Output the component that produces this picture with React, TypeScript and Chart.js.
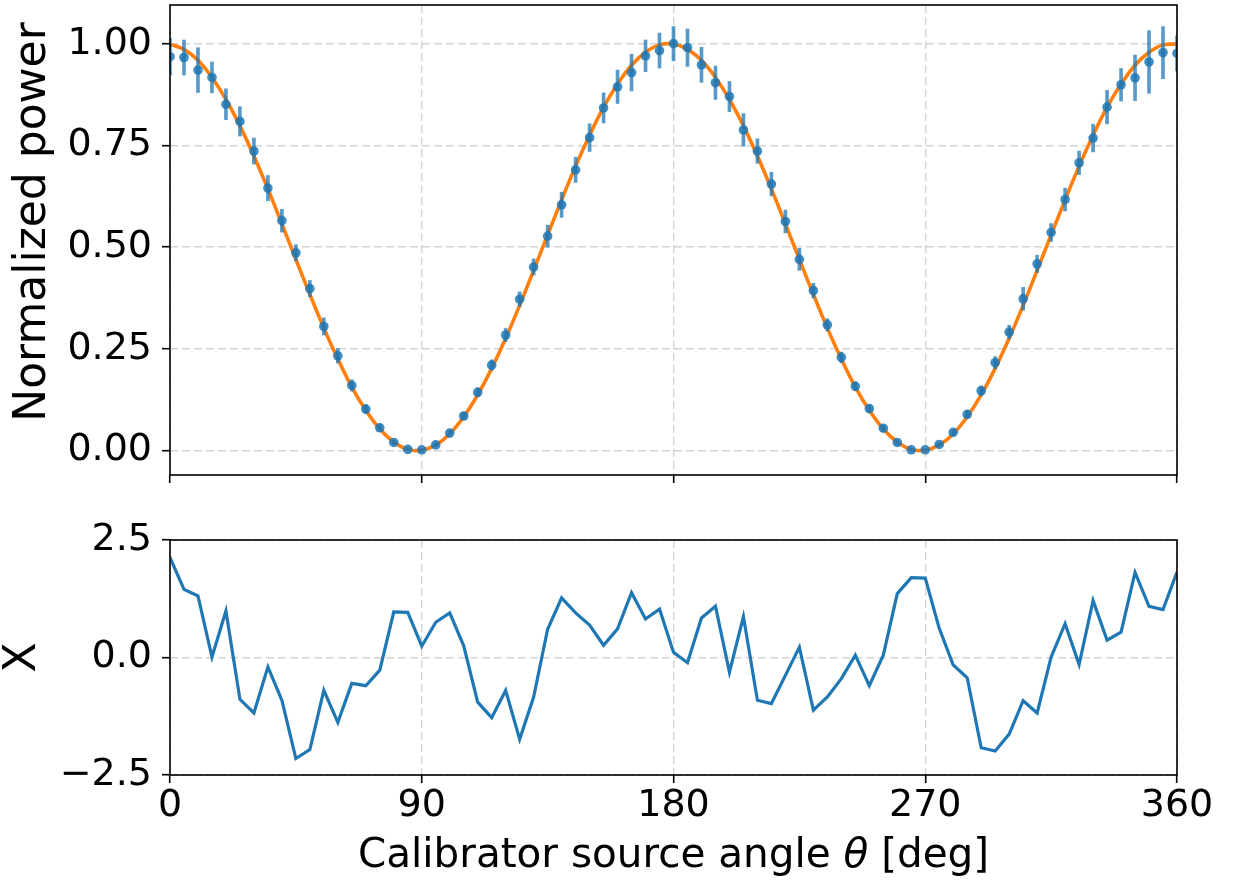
import { useEffect, useRef } from 'react';
import { Chart, registerables } from 'chart.js';

Chart.register(...registerables);

// ---------- data ----------
const ANGLES = [
  0, 5, 10, 15, 20, 25, 30, 35, 40, 45, 50, 55, 60, 65, 70, 75, 80, 85, 90, 95,
  100, 105, 110, 115, 120, 125, 130, 135, 140, 145, 150, 155, 160, 165, 170, 175,
  180, 185, 190, 195, 200, 205, 210, 215, 220, 225, 230, 235, 240, 245, 250, 255,
  260, 265, 270, 275, 280, 285, 290, 295, 300, 305, 310, 315, 320, 325, 330, 335,
  340, 345, 350, 355, 360,
];

const POWER = [
  0.968, 0.966, 0.935, 0.917, 0.851, 0.809, 0.736, 0.645, 0.565, 0.486,
  0.398, 0.305, 0.233, 0.160, 0.102, 0.056, 0.020, 0.003, 0.002, 0.014,
  0.043, 0.085, 0.143, 0.210, 0.284, 0.372, 0.451, 0.527, 0.604, 0.690,
  0.769, 0.842, 0.894, 0.929, 0.970, 0.983, 1.000, 0.990, 0.948, 0.904,
  0.870, 0.788, 0.736, 0.655, 0.563, 0.470, 0.393, 0.309, 0.229, 0.158,
  0.103, 0.055, 0.020, 0.002, 0.002, 0.015, 0.045, 0.089, 0.147, 0.216,
  0.291, 0.373, 0.459, 0.536, 0.617, 0.707, 0.768, 0.844, 0.899, 0.916,
  0.955, 0.978, 0.976,
];

const POWER_ERR = [
  0.045, 0.043, 0.055, 0.038, 0.038, 0.036, 0.032, 0.031, 0.028, 0.020,
  0.020, 0.021, 0.018, 0.014, 0.011, 0.008, 0.005, 0.003, 0.002, 0.004,
  0.006, 0.008, 0.011, 0.013, 0.016, 0.018, 0.020, 0.027, 0.031, 0.031,
  0.034, 0.037, 0.041, 0.045, 0.039, 0.043, 0.042, 0.046, 0.043, 0.041,
  0.037, 0.040, 0.030, 0.029, 0.028, 0.027, 0.018, 0.015, 0.013, 0.011,
  0.009, 0.007, 0.005, 0.003, 0.002, 0.003, 0.006, 0.009, 0.012, 0.015,
  0.017, 0.028, 0.021, 0.022, 0.028, 0.029, 0.034, 0.041, 0.040, 0.056,
  0.077, 0.064, 0.043,
];

const FIT = [
  0.999, 0.986, 0.959, 0.917, 0.863, 0.798, 0.724, 0.643, 0.557, 0.470,
  0.384, 0.301, 0.225, 0.156, 0.099, 0.053, 0.021, 0.003, 0.001, 0.014,
  0.041, 0.083, 0.137, 0.202, 0.276, 0.357, 0.443, 0.530, 0.616, 0.699,
  0.775, 0.844, 0.901, 0.947, 0.979, 0.997, 0.999, 0.986, 0.959, 0.917,
  0.863, 0.798, 0.724, 0.643, 0.557, 0.470, 0.384, 0.301, 0.225, 0.156,
  0.099, 0.053, 0.021, 0.003, 0.001, 0.014, 0.041, 0.083, 0.137, 0.202,
  0.276, 0.357, 0.443, 0.530, 0.616, 0.699, 0.775, 0.844, 0.901, 0.947,
  0.979, 0.997, 0.999,
];

const RESIDUAL = [
  2.13, 1.45, 1.31, 0.01, 0.99, -0.89, -1.18, -0.20, -0.91, -2.15,
  -1.96, -0.70, -1.38, -0.55, -0.60, -0.27, 0.97, 0.96, 0.24, 0.75,
  0.95, 0.25, -0.95, -1.28, -0.70, -1.74, -0.84, 0.60, 1.27, 0.95,
  0.69, 0.26, 0.61, 1.38, 0.82, 1.03, 0.11, -0.11, 0.84, 1.09,
  -0.31, 0.87, -0.91, -0.98, -0.38, 0.22, -1.12, -0.84, -0.45, 0.05,
  -0.60, 0.05, 1.36, 1.70, 1.69, 0.62, -0.16, -0.43, -1.92, -1.99,
  -1.63, -0.92, -1.18, 0.01, 0.72, -0.15, 1.21, 0.37, 0.54, 1.81,
  1.09, 1.02, 1.82,
];

const X_TICKS = [0, 90, 180, 270, 360];
const X_TICK_LABELS = ['0', '90', '180', '270', '360'];
const TOP_Y_TICKS = [0, 0.25, 0.5, 0.75, 1.0];
const TOP_Y_LABELS = ['0.00', '0.25', '0.50', '0.75', '1.00'];
const BOT_Y_TICKS = [-2.5, 0, 2.5];
const BOT_Y_LABELS = ['\u22122.5', '0.0', '2.5'];

const TOP_Y_LABEL = 'Normalized power';
const BOT_Y_LABEL = 'X';
// x-axis title pieces: [text, italic?]
const X_LABEL_PARTS: [string, boolean][] = [
  ['Calibrator source angle ', false],
  ['\u03b8', true],
  [' [deg]', false],
];

// ---------- styling ----------
const FONT = 'DejaVu Sans';
const TICK_FONT = { family: FONT, size: 38 };
const Y_TITLE_FONT = { family: FONT, size: 44 };
const X_TITLE_SIZE = 40.5;
const GRID_COLOR = 'rgba(176,176,176,0.55)';
const BLUE = '#1f77b4';
const ORANGE = '#ff7f0e';

const framePlugin = {
  id: 'frame',
  afterDraw(chart: any) {
    const { ctx, chartArea } = chart;
    ctx.save();
    ctx.strokeStyle = '#000';
    ctx.lineWidth = 1.6;
    ctx.strokeRect(chartArea.left, chartArea.top, chartArea.right - chartArea.left, chartArea.bottom - chartArea.top);
    ctx.restore();
  },
};

// y-axis title of the upper panel (matplotlib places it a bit above the axes centre)
const topTitlePlugin = {
  id: 'topTitle',
  afterDraw(chart: any) {
    const { ctx } = chart;
    ctx.save();
    ctx.translate(33.4, 222);
    ctx.rotate(-Math.PI / 2);
    ctx.font = `${Y_TITLE_FONT.size}px "${FONT}"`;
    ctx.fillStyle = '#000';
    ctx.textAlign = 'center';
    ctx.textBaseline = 'middle';
    ctx.fillText(TOP_Y_LABEL, 0, 0);
    ctx.restore();
  },
};

// x-axis title with an italic theta
const xTitlePlugin = {
  id: 'xTitle',
  afterDraw(chart: any) {
    const { ctx, chartArea, height } = chart;
    ctx.save();
    ctx.fillStyle = '#000';
    ctx.textBaseline = 'middle';
    ctx.textAlign = 'left';
    const fontFor = (it: boolean) => `${it ? 'italic ' : ''}${X_TITLE_SIZE}px "${FONT}"`;
    let total = 0;
    for (const [t, it] of X_LABEL_PARTS) {
      ctx.font = fontFor(it);
      total += ctx.measureText(t).width;
    }
    let x = (chartArea.left + chartArea.right) / 2 - total / 2;
    const y = height - (X_TITLE_SIZE * 1.2) / 2;
    for (const [t, it] of X_LABEL_PARTS) {
      ctx.font = fontFor(it);
      ctx.fillText(t, x, y);
      x += ctx.measureText(t).width;
    }
    ctx.restore();
  },
};

function gridOpts() {
  return {
    color: GRID_COLOR,
    lineWidth: 1.4,
    borderDash: [8, 4],
    drawTicks: true,
    tickLength: 8,
    tickColor: '#000',
    tickWidth: 1.6,
    tickBorderDash: [],
    offset: false,
  };
}

function borderOpts() {
  return { display: false, dash: [8, 4] };
}

function fitY(width: number) {
  return (s: any) => {
    s.width = width;
    s.paddingTop = 0;
    s.paddingBottom = 0;
  };
}

function fitX(height: number) {
  return (s: any) => {
    s.height = height;
    s.paddingLeft = 0;
    s.paddingRight = 0;
  };
}

export default function App() {
  const topRef = useRef<HTMLCanvasElement>(null);
  const botRef = useRef<HTMLCanvasElement>(null);

  useEffect(() => {
    const points = ANGLES.map((a, i) => ({ x: a, y: POWER[i] }));
    const bars = ANGLES.map((a, i) => ({ x: a, y: [POWER[i] - POWER_ERR[i], POWER[i] + POWER_ERR[i]] }));
    const fit = ANGLES.map((a, i) => ({ x: a, y: FIT[i] }));
    const resid = ANGLES.map((a, i) => ({ x: a, y: RESIDUAL[i] }));

    const top = new Chart(topRef.current as HTMLCanvasElement, {
      type: 'scatter',
      data: {
        datasets: [
          {
            type: 'line',
            data: fit,
            borderColor: ORANGE,
            borderWidth: 3.6,
            pointRadius: 0,
            tension: 0.33,
            clip: 0,
            order: 3,
          } as any,
          {
            type: 'bar',
            data: bars,
            backgroundColor: 'rgba(31,119,180,0.75)',
            borderWidth: 0,
            barThickness: 3,
            clip: 0,
            order: 2,
          } as any,
          {
            type: 'scatter',
            data: points,
            pointRadius: 4.8,
            pointBackgroundColor: 'rgba(31,119,180,0.85)',
            pointBorderWidth: 0,
            clip: 0,
            order: 1,
          } as any,
        ],
      },
      options: {
        animation: false,
        responsive: false,
        devicePixelRatio: 1,
        layout: { padding: { top: 5, right: 56, bottom: 0, left: 0 } },
        plugins: { legend: { display: false }, tooltip: { enabled: false } },
        scales: {
          x: {
            type: 'linear',
            min: 0,
            max: 360,
            offset: false,
            afterBuildTicks: (s: any) => { s.ticks = X_TICKS.map((v) => ({ value: v })); },
            afterFit: fitX(15),
            ticks: { display: false },
            grid: gridOpts(),
            border: borderOpts(),
          },
          y: {
            type: 'linear',
            min: -0.06,
            max: 1.095,
            afterBuildTicks: (s: any) => { s.ticks = TOP_Y_TICKS.map((v) => ({ value: v })); },
            afterFit: fitY(170),
            ticks: {
              font: TICK_FONT,
              color: '#000',
              padding: 10,
              callback: (_v: any, i: number) => TOP_Y_LABELS[i],
            },
            grid: gridOpts(),
            border: borderOpts(),
          },
        },
      } as any,
      plugins: [framePlugin, topTitlePlugin],
    });

    const bot = new Chart(botRef.current as HTMLCanvasElement, {
      type: 'scatter',
      data: {
        datasets: [
          {
            type: 'line',
            data: resid,
            borderColor: BLUE,
            borderWidth: 3.2,
            pointRadius: 0,
            tension: 0,
            clip: 0,
          } as any,
        ],
      },
      options: {
        animation: false,
        responsive: false,
        devicePixelRatio: 1,
        layout: { padding: { top: 50, right: 56, bottom: 0, left: 0 } },
        plugins: { legend: { display: false }, tooltip: { enabled: false } },
        scales: {
          x: {
            type: 'linear',
            min: 0,
            max: 360,
            offset: false,
            afterBuildTicks: (s: any) => { s.ticks = X_TICKS.map((v) => ({ value: v })); },
            afterFit: fitX(106),
            ticks: {
              font: TICK_FONT,
              color: '#000',
              padding: 0,
              maxRotation: 0,
              autoSkip: false,
              callback: (_v: any, i: number) => X_TICK_LABELS[i],
            },
            grid: gridOpts(),
            border: borderOpts(),
          },
          y: {
            type: 'linear',
            min: -2.5,
            max: 2.5,
            afterBuildTicks: (s: any) => { s.ticks = BOT_Y_TICKS.map((v) => ({ value: v })); },
            afterFit: fitY(170),
            ticks: {
              font: TICK_FONT,
              color: '#000',
              padding: 10,
              callback: (_v: any, i: number) => BOT_Y_LABELS[i],
            },
            grid: gridOpts(),
            border: borderOpts(),
            title: { display: true, text: BOT_Y_LABEL, font: Y_TITLE_FONT, color: '#000', padding: { top: -3, bottom: 0 } },
          },
        },
      } as any,
      plugins: [framePlugin, xTitlePlugin],
    });

    return () => {
      top.destroy();
      bot.destroy();
    };
  }, []);

  return (
    <div style={{ position: 'absolute', left: 0, top: 0, width: 1233, height: 881, background: '#fff' }}>
      <canvas ref={topRef} width={1233} height={490} style={{ position: 'absolute', left: 0, top: 0 }} />
      <canvas ref={botRef} width={1233} height={391} style={{ position: 'absolute', left: 0, top: 490 }} />
    </div>
  );
}
